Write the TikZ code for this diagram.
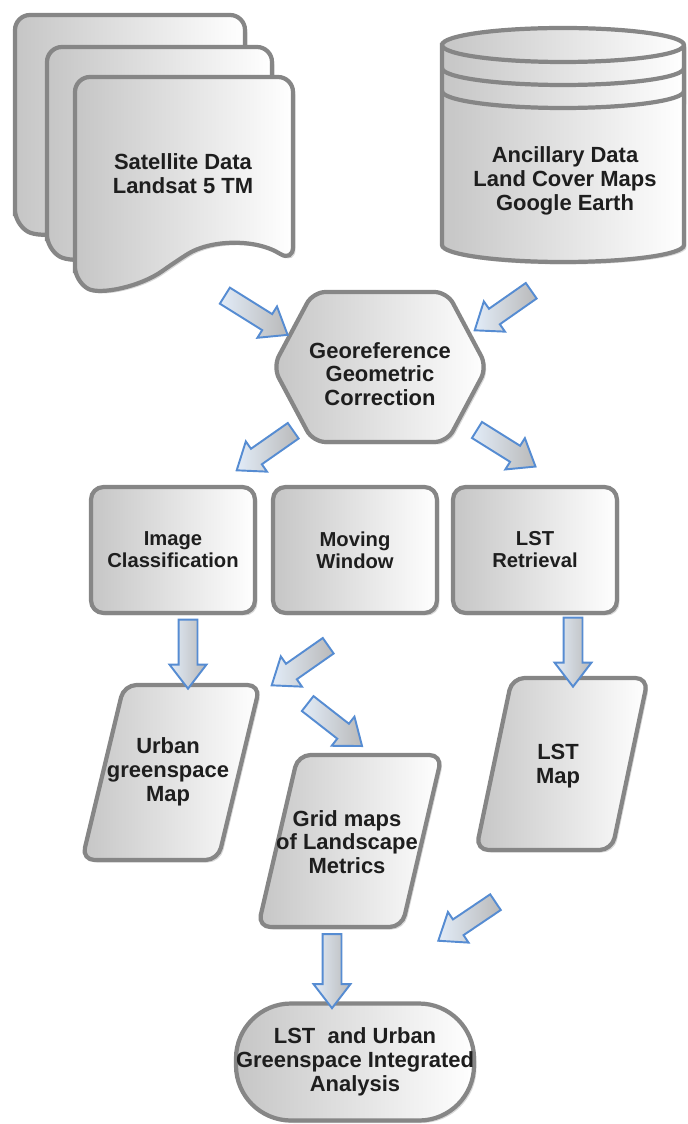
\documentclass[tikz,border=0pt]{standalone}
\usepackage{fontspec}
\setmainfont{Liberation Sans}
\usetikzlibrary{shapes.arrows,shadows}
\definecolor{arrowline}{RGB}{86,140,210}
\definecolor{arrowtail}{RGB}{226,236,248}
\definecolor{textgray}{RGB}{30,30,30}

\begin{document}
\begin{tikzpicture}[
    x=0.02cm, y=-0.02cm,
    font=\bfseries\fontsize{12.5}{13.5}\selectfont,
    % Relleno degradado y borde gris comun a todas las figuras
    box/.style={draw=gray!95, line width=2.4pt, left color=gray!45, right color=white,
        drop shadow={opacity=0.3, shadow xshift=0.05cm, shadow yshift=-0.05cm}},
    sheet/.style={box, rounded corners=0.3cm},
    drum/.style={box},
    band/.style={draw=gray!95, line width=2.4pt},
    hexa/.style={box, rounded corners=0.25cm},
    data/.style={box, rounded corners=0.25cm},
    process/.style={box, rectangle, rounded corners=0.25cm, minimum width=3.28cm, minimum height=2.52cm,
        align=center, text=textgray, font=\bfseries\fontsize{11.5}{12.5}\selectfont},
    terminal/.style={box, rectangle, rounded corners=1.1cm, minimum width=4.5cm, minimum height=2.34cm,
        inner xsep=0pt, align=center, text=textgray},
    label/.style={align=center, text=textgray},
    % Flechas de bloque entre las etapas
    bigarrow/.style={single arrow, draw=arrowline, line width=1.1pt, left color=arrowtail, right color=gray!55,
        single arrow head extend=0.18cm, single arrow tip angle=75, inner sep=0.17cm, minimum height=1.38cm}
]
\useasboundingbox (0,0) rectangle (687,1124);

% --- Datos de entrada: pila de documentos ---
\draw[sheet] (15,225) -- (15,15) -- (245,15) -- (245,200) .. controls (210,180) and (160,185) .. (120,210) .. controls (80,235) and (40,238) .. (15,225) -- cycle;
\draw[sheet] (47,250) -- (47,47) -- (272,47) -- (272,230) .. controls (232,208) and (185,212) .. (150,235) .. controls (110,260) and (72,263) .. (47,250) -- cycle;
\draw[sheet] (75,282) -- (75,77) -- (293,77) -- (293,262) .. controls (255,238) and (210,240) .. (175,262) .. controls (140,287) and (100,295) .. (75,282) -- cycle;
\node[label] (sat) at (183,174) {Satellite Data\\Landsat 5 TM};

% --- Datos auxiliares: cilindro ---
\draw[drum] (442,45) -- (442,245) arc[start angle=180, end angle=360, x radius=2.42cm, y radius=0.34cm]
    -- (684,45) arc[start angle=0, end angle=180, x radius=2.42cm, y radius=0.34cm] -- cycle;
\draw[band] (442,45) arc[start angle=180, end angle=360, x radius=2.42cm, y radius=0.34cm];
\draw[band] (442,68) arc[start angle=180, end angle=360, x radius=2.42cm, y radius=0.34cm];
\draw[band] (442,91) arc[start angle=180, end angle=360, x radius=2.42cm, y radius=0.34cm];
\node[label] (anc) at (565,181) {Ancillary Data\\Land Cover Maps\\Google Earth};

% --- Preprocesado ---
\draw[hexa] (273,367) -- (313,292) -- (447,292) -- (487,367) -- (447,442) -- (313,442) -- cycle;
\node[label] (geo) at (380,374) {Georeference\\Geometric\\Correction};

% --- Procesos ---
\node[process] (cls) at (173,550) {Image\\Classification};
\node[process] (mwin) at (355,550) {Moving\\Window};
\node[process] (lstr) at (535,550) {LST\\Retrieval};

% --- Productos ---
\draw[data] (124,685) -- (260,685) -- (218,860) -- (82,860) -- cycle;
\node[label] (ugs) at (168,772) {Urban\\greenspace\\Map};
\draw[data] (298,755) -- (442,755) -- (402,927) -- (258,927) -- cycle;
\node[label] (grid) at (347,842) {Grid maps\\of Landscape\\Metrics};
\draw[data] (512,678) -- (648,678) -- (612,850) -- (476,850) -- cycle;
\node[label] (lstm) at (558,766) {LST\\Map};

% --- Analisis final ---
\node[terminal] (final) at (355,1062) {LST~ and Urban\\Greenspace Integrated\\Analysis};

% --- Flechas ---
\node[bigarrow, minimum height=1.48cm, rotate=-32] (a1) at (251,312) {};
\node[bigarrow, rotate=-145] (a2) at (508,307) {};
\node[bigarrow, rotate=-145] (a3) at (270,447) {};
\node[bigarrow, rotate=-32] (a4) at (501,445) {};
\node[bigarrow, rotate=-90] (a5) at (188,648) {};
\node[bigarrow, rotate=-90] (a6) at (573,646) {};
\node[bigarrow, rotate=-145] (a7) at (305,662) {};
\node[bigarrow, rotate=-38] (a8) at (330,721) {};
\node[bigarrow, rotate=-146] (a9) at (472,918) {};
\node[bigarrow, minimum height=1.48cm, rotate=-90] (a10) at (332,965) {};

\end{tikzpicture}
\end{document}
